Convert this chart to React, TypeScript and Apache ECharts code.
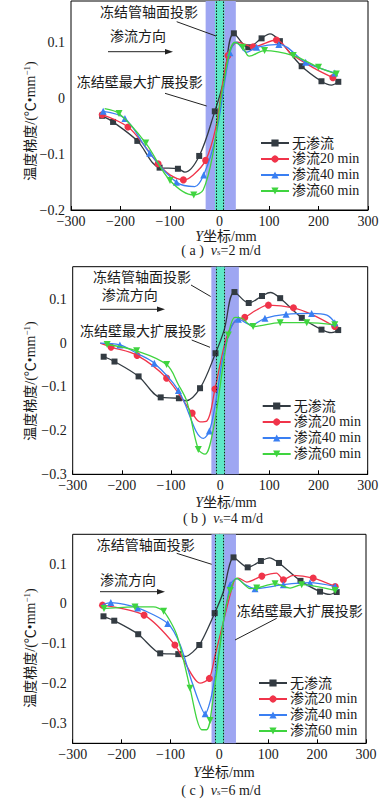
import React, { useEffect, useRef } from "react";
import * as echarts from "echarts";

// ---------- data ----------
const xTicks = [-300, -200, -100, 0, 100, 200, 300];
const seriesNames = ["无渗流", "渗流20 min", "渗流40 min", "渗流60 min"];
const panelLetters = ["a", "b", "c"];
const seepageSpeeds = ["2", "4", "6"];
const yTicksA = [-0.2, -0.1, 0, 0.1];
const yTicksB = [-0.3, -0.2, -0.1, 0, 0.1];
const yTicksC = [-0.3, -0.2, -0.1, 0, 0.1];
const yRangeA = [-0.2, 0.175];
const yRangeB = [-0.3, 0.175];
const yRangeC = [-0.35, 0.175];
const wallExtentA = [-28, 33];
const wallExtentB = [-18, 38];
const wallExtentC = [-16, 34];
const pipeExtent = [-9, 10];
const pipeEdges = [-7.5, 8];

// [Y (mm), gradient (°C/mm), measured point 1/0]
const noSeepage = [
  [-237, -0.031, 1], [-215, -0.042, 1], [-166, -0.076, 1], [-121, -0.124, 1], [-84, -0.126, 1],
  [-70, -0.132, 0], [-41, -0.103, 1], [-9.5, -0.023, 1], [8, 0.03, 0], [29, 0.117, 1],
  [58, 0.092, 1], [85, 0.108, 1], [102, 0.116, 0], [122, 0.103, 1], [166, 0.058, 1],
  [206, 0.031, 1], [226, 0.024, 0], [240, 0.03, 1],
];
const a20 = [
  [-237, -0.029, 1], [-185, -0.051, 1], [-152, -0.084, 0], [-124, -0.117, 1], [-100, -0.137, 0],
  [-73, -0.146, 1], [-53, -0.137, 0], [-28, -0.111, 1], [-8, -0.054, 0], [17, 0.077, 1],
  [37, 0.101, 0], [68, 0.093, 1], [115, 0.105, 1], [145, 0.08, 0], [190, 0.055, 0], [229, 0.0375, 1],
];
const a40 = [
  [-235, -0.023, 1], [-191, -0.036, 1], [-141, -0.098, 1], [-87, -0.15, 1], [-50, -0.158, 0],
  [-32, -0.137, 1], [-8, -0.07, 0], [21, 0.082, 1], [34, 0.101, 0], [55, 0.083, 0],
  [75, 0.092, 1], [120, 0.097, 1], [174, 0.065, 1], [233, 0.046, 1],
];
const a60 = [
  [-232, -0.018, 0], [-203, -0.027, 1], [-149, -0.08, 1], [-100, -0.147, 1], [-52, -0.173, 1],
  [-33, -0.164, 0], [-13, -0.098, 0], [7, 0.021, 0], [31, 0.101, 0], [47, 0.092, 1],
  [60, 0.076, 0], [91, 0.086, 1], [149, 0.077, 1], [200, 0.056, 1], [236, 0.044, 1],
];
const b20 = [
  [-244, 0, 0], [-222, -0.009, 1], [-169, -0.028, 1], [-109, -0.08, 1], [-57, -0.16, 1],
  [-41, -0.18, 0], [-27, -0.178, 0], [-10.6, -0.105, 1], [12, 0.01, 0], [30, 0.05, 0],
  [50, 0.059, 1], [74, 0.076, 0], [98, 0.087, 1], [149, 0.081, 1], [186, 0.066, 0], [233, 0.038, 1],
];
const b40 = [
  [-244, 0, 0], [-204, -0.004, 1], [-170, -0.023, 0], [-134, -0.046, 1], [-85, -0.108, 1],
  [-34, -0.218, 0], [-22, -0.201, 1], [-10.6, -0.144, 0], [12, 0.0, 0], [37, 0.055, 1],
  [64, 0.042, 0], [91, 0.057, 1], [134, 0.066, 1], [186, 0.068, 1], [217, 0.064, 0], [233, 0.047, 1],
];
const b60 = [
  [-230, -0.003, 1], [-170, -0.0175, 1], [-109, -0.049, 1], [-85, -0.095, 0], [-68, -0.133, 0],
  [-44.5, -0.243, 1], [-31, -0.254, 0], [-14, -0.197, 0], [6, -0.05, 0], [16.5, 0.019, 1],
  [30, 0.059, 0], [44, 0.057, 0], [67, 0.038, 1], [122, 0.047, 1], [176, 0.047, 1], [233, 0.042, 1],
];
const c20 = [
  [-239, -0.003, 1], [-154, -0.028, 1], [-91, -0.103, 1], [-39.5, -0.199, 0], [-20.4, -0.187, 1],
  [-8.8, -0.13, 0], [30, 0.058, 0], [39, 0.065, 0], [56, 0.055, 0], [87, 0.07, 1],
  [117, 0.0775, 0], [131, 0.061, 1], [151, 0.072, 0], [192, 0.065, 1], [237, 0.044, 1],
];
const c40 = [
  [-239, -0.0015, 0], [-222, 0.0035, 1], [-167, -0.01, 1], [-105.5, -0.049, 1], [-80, -0.103, 0],
  [-55, -0.2, 0], [-29, -0.276, 1], [-15.5, -0.228, 0], [22, 0.0485, 1], [35.6, 0.0635, 0],
  [52.6, 0.0485, 0], [73, 0.0385, 1], [131, 0.0485, 1], [185.5, 0.0535, 1], [237, 0.044, 1],
];
const c60 = [
  [-236, -0.0115, 1], [-172.5, -0.0075, 1], [-135, -0.0075, 0], [-114, -0.018, 1], [-87, -0.078, 0],
  [-60, -0.2115, 1], [-46, -0.29, 0], [-36, -0.316, 0], [-26, -0.316, 0], [-19, -0.293, 1],
  [10, -0.03, 0], [22, 0.034, 1], [35.6, 0.065, 0], [63, 0.0385, 0], [76.5, 0.04, 1],
  [114, 0.051, 1], [144.6, 0.04, 0], [168.5, 0.0485, 1], [237, 0.034, 1],
];

// ---------- layout / style ----------
const FONT = "'Liberation Serif', 'Noto Sans CJK SC', serif";
const TXT = "#1a1a1a";
const colors = ["#333b42", "#f0344a", "#3a7ff2", "#3fd43f"];
const symbols = ["rect", "circle", "triangle", "path://M0,0L10,0L5,9Z"];
const symbolSizes = [6, 7, 7, 7];

const layouts = [
  {
    grid: { left: 71, top: 1, width: 297, height: 209 },
    xName: [226, 236], caption: [221, 250], yName: [30, 121],
    pipeText: [100, 12.7], pipeLine: [176.7, 21.7, 216, 36],
    flowText: [110, 36], arrow: [108, 173, 51.7],
    wallText: [76.7, 82.7], wallLine: [165, 93.3, 206.7, 106],
    legend: [255, 131],
  },
  {
    grid: { left: 72.7, top: 266.7, width: 295, height: 207.6 },
    xName: [226, 502], caption: [223, 518.5], yName: [30, 381],
    pipeText: [93, 277.3], pipeLine: [191, 285, 210.7, 296.5],
    flowText: [101.7, 295], arrow: [100, 165, 309.3],
    wallText: [80, 331.7], wallLine: [191.7, 340, 210, 347.3],
    legend: [256.7, 394],
  },
  {
    grid: { left: 72.7, top: 534.3, width: 293.3, height: 209 },
    xName: [224, 772], caption: [221, 790], yName: [30, 648],
    pipeText: [96.7, 545.7], pipeLine: [176.7, 553.3, 211.7, 564.3],
    flowText: [100, 580], arrow: [100, 165, 591.7],
    wallText: [236.7, 611], wallLine: [276.7, 618.3, 235, 640],
    legend: [253, 671],
  },
];

const panelData = [
  { curves: [noSeepage, a20, a40, a60], yRange: yRangeA, yTicks: yTicksA, wall: wallExtentA },
  { curves: [noSeepage, b20, b40, b60], yRange: yRangeB, yTicks: yTicksB, wall: wallExtentB },
  { curves: [noSeepage, c20, c40, c60], yRange: yRangeC, yTicks: yTicksC, wall: wallExtentC },
];

const fmtNum = (v: number) => (v === 0 ? "0" : String(Math.round(v * 10) / 10).replace("-", "−"));

function buildOption() {
  const grid: any[] = [];
  const xAxis: any[] = [];
  const yAxis: any[] = [];
  const series: any[] = [];
  const legend: any[] = [];
  const graphic: any[] = [];

  panelData.forEach((p, i) => {
    const L = layouts[i];
    grid.push({ ...L.grid, show: true, borderColor: "#000", borderWidth: 1, containLabel: false, outerBoundsMode: "none" });
    xAxis.push({
      type: "value", gridIndex: i, min: xTicks[0], max: xTicks[xTicks.length - 1], interval: 100,
      axisLine: { show: true, onZero: false, lineStyle: { color: "#000", width: 1 } },
      axisTick: { show: true, inside: true, length: 4, lineStyle: { color: "#000" } },
      axisLabel: { show: true, margin: 4, fontSize: 14, fontFamily: FONT, color: TXT, formatter: (v: number) => String(v).replace("-", "−") },
      splitLine: { show: false },
    });
    yAxis.push({
      type: "value", gridIndex: i, min: p.yRange[0], max: p.yRange[1],
      axisLine: { show: true, lineStyle: { color: "#000", width: 1 } },
      axisTick: { show: true, inside: true, length: 4, lineStyle: { color: "#000" }, customValues: p.yTicks },
      axisLabel: { show: true, margin: 6, fontSize: 14, fontFamily: FONT, color: TXT, customValues: p.yTicks, formatter: (v: number) => fmtNum(v) },
      splitLine: { show: false },
    });

    // freezing wall projection band (under lines)
    series.push({
      name: "wall" + i, type: "line", xAxisIndex: i, yAxisIndex: i, data: [], z: 1, silent: true,
      markArea: { silent: true, itemStyle: { color: "#9ea6f2", opacity: 1 }, label: { show: false },
        data: [[{ xAxis: p.wall[0] }, { xAxis: p.wall[1] }]] },
    });

    p.curves.forEach((c, k) => {
      series.push({
        name: seriesNames[k], type: "line", xAxisIndex: i, yAxisIndex: i, z: 3 + k,
        smooth: i === 2 ? 0.25 : 0.35,
        symbol: symbols[k], symbolSize: symbolSizes[k], showSymbol: true,
        lineStyle: { color: colors[k], width: 1.3 },
        itemStyle: { color: colors[k] },
        data: c.map((pt) => (pt[2] ? [pt[0], pt[1]] : { value: [pt[0], pt[1]], symbol: "none" })),
      });
    });

    // freezing pipe projection (on top)
    series.push({
      name: "pipe" + i, type: "line", xAxisIndex: i, yAxisIndex: i, data: [], z: 20, silent: true,
      markArea: { silent: true, itemStyle: { color: "#5ee8c6", opacity: 1 }, label: { show: false },
        data: [[{ xAxis: pipeExtent[0] }, { xAxis: pipeExtent[1] }]] },
      markLine: { silent: true, symbol: ["none", "none"], label: { show: false },
        lineStyle: { color: "#1a1a1a", type: [1.5, 1.5], width: 1 },
        data: pipeEdges.map((e) => ({ xAxis: e })) },
    });

    legend.push({
      orient: "vertical", left: L.legend[0], top: L.legend[1], itemWidth: 28, itemHeight: 9, itemGap: 2,
      data: seriesNames, selectedMode: false,
      textStyle: { fontSize: 14, fontFamily: FONT, color: TXT, lineHeight: 13, padding: [0, 0, 0, -2] },
    });

    const t = (x: number, y: number, text: string, extra: any = {}) => ({
      type: "text", x, y, silent: true, z: 50,
      style: { text, fontSize: 14, fontFamily: FONT, fill: TXT, verticalAlign: "middle", align: "left", ...extra },
    });
    graphic.push(t(L.pipeText[0], L.pipeText[1], "冻结管轴面投影"));
    graphic.push(t(L.flowText[0], L.flowText[1], "渗流方向"));
    graphic.push(t(L.wallText[0], L.wallText[1], "冻结壁最大扩展投影"));
    graphic.push({ type: "line", z: 50, silent: true, shape: { x1: L.pipeLine[0], y1: L.pipeLine[1], x2: L.pipeLine[2], y2: L.pipeLine[3] }, style: { stroke: "#222", lineWidth: 1 } });
    graphic.push({ type: "line", z: 50, silent: true, shape: { x1: L.wallLine[0], y1: L.wallLine[1], x2: L.wallLine[2], y2: L.wallLine[3] }, style: { stroke: "#222", lineWidth: 1 } });
    const [ax1, ax2, ay] = L.arrow;
    graphic.push({ type: "line", z: 50, silent: true, shape: { x1: ax1, y1: ay, x2: ax2 - 6, y2: ay }, style: { stroke: "#222", lineWidth: 1 } });
    graphic.push({ type: "polygon", z: 50, silent: true, shape: { points: [[ax2, ay], [ax2 - 8, ay - 2.8], [ax2 - 8, ay + 2.8]] }, style: { fill: "#222" } });

    graphic.push({
      type: "text", x: L.xName[0], y: L.xName[1], silent: true,
      style: {
        text: "{v|Y}{t|坐标/mm}", align: "center", verticalAlign: "middle",
        rich: {
          v: { fontSize: 14, fontFamily: FONT, fontStyle: "italic", fill: TXT, lineHeight: 12 },
          t: { fontSize: 14, fontFamily: FONT, fill: TXT, lineHeight: 12 },
        },
      },
    });
    graphic.push({
      type: "text", x: L.caption[0], y: L.caption[1], silent: true,
      style: {
        text: `{t|( ${panelLetters[i]} )  }{v|v}{s|s}{t|=${seepageSpeeds[i]} m/d}`, align: "center", verticalAlign: "middle",
        rich: {
          t: { fontSize: 14, fontFamily: FONT, fill: TXT, lineHeight: 12 },
          v: { fontSize: 14, fontFamily: FONT, fontStyle: "italic", fill: TXT, lineHeight: 12 },
          s: { fontSize: 9, fontFamily: FONT, fill: TXT, lineHeight: 12, verticalAlign: "bottom", padding: [5, 0, 0, 0] },
        },
      },
    });
    graphic.push({
      type: "text", x: L.yName[0], y: L.yName[1], rotation: Math.PI / 2, silent: true,
      style: {
        text: "{t|温度梯度/(℃•mm}{s|−1}{t|)}", align: "center", verticalAlign: "middle",
        rich: {
          t: { fontSize: 14, fontFamily: FONT, fill: TXT, lineHeight: 16 },
          s: { fontSize: 9, fontFamily: FONT, fill: TXT, lineHeight: 16, verticalAlign: "top", padding: [0, 0, 6, 0] },
        },
      },
    });
  });

  return { animation: false, backgroundColor: "#fff", grid, xAxis, yAxis, series, legend, graphic };
}

export default function App() {
  const ref = useRef<HTMLDivElement>(null);
  useEffect(() => {
    document.body.style.margin = "0";
    if (!ref.current) return;
    const chart = echarts.init(ref.current, undefined, { renderer: "svg" });
    chart.setOption(buildOption() as any);
    return () => chart.dispose();
  }, []);
  return <div ref={ref} style={{ width: 380, height: 800 }} />;
}
